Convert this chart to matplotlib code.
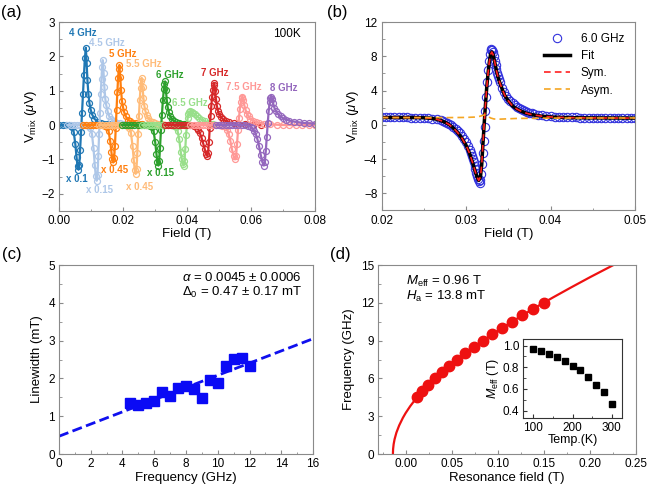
import numpy as np
import matplotlib
matplotlib.use('Agg')
import matplotlib.pyplot as plt
from matplotlib.ticker import MultipleLocator

plt.rcParams['font.family'] = ['Liberation Sans', 'DejaVu Sans']
plt.rcParams['mathtext.fontset'] = 'custom'
plt.rcParams['mathtext.rm'] = 'Liberation Sans'
plt.rcParams['mathtext.it'] = 'Liberation Sans:italic'
plt.rcParams['mathtext.bf'] = 'Liberation Sans:bold'

# ---- (a) Vmix spectra at 100 K, field in mT, Vmix in uV (scaled)
h_4 = [0, 1, 2, 3, 3.5, 4, 4.5, 5, 5.4, 5.7, 6.0, 6.25, 6.5, 6.8, 7.1, 7.4, 7.7, 8.0, 8.3, 8.55,
       8.8, 9.1, 9.4, 9.8, 10.3, 11, 12, 13, 14, 15, 16]
v_4 = [0, 0, 0, 0, -0.03, -0.07, -0.2, -0.55, -0.94, -1.2, -1.3, -1.17, -0.72, -0.2, 0.35, 0.9, 1.45,
       1.95, 2.25, 1.8, 1.3, 0.9, 0.65, 0.45, 0.3, 0.18, 0.1, 0.06, 0.04, 0.03, 0.02]
h_45 = [2.5, 3.5, 4.5, 5.5, 6.5, 7.5, 8.5, 9.2, 9.7, 10.2, 10.7, 11.1, 11.4, 11.7, 11.95, 12.2, 12.45,
        12.7, 12.95, 13.2, 13.4, 13.6, 13.85, 14.1, 14.4, 14.7, 15.1, 15.6, 16.3, 17, 18, 19, 20, 21, 22]
v_45 = [0, 0, 0, 0, 0, 0, 0, -0.04, -0.1, -0.25, -0.68, -1.17, -1.49, -1.62, -1.45, -0.9, -0.25, 0.35,
        0.9, 1.35, 1.7, 1.89, 1.51, 1.1, 0.75, 0.57, 0.4, 0.26, 0.17, 0.12, 0.07, 0.05, 0.03, 0.02, 0.01]
h_5 = [7.5, 8.5, 9.5, 10.5, 11.5, 12.5, 13.5, 14.4, 14.9, 15.4, 15.9, 16.3, 16.6, 16.9, 17.15, 17.4,
       17.65, 17.9, 18.15, 18.4, 18.6, 18.8, 19.05, 19.3, 19.6, 19.9, 20.3, 20.8, 21.5, 22.2, 23, 24, 25, 26, 27]
v_5 = [0, 0, 0, 0, 0, 0, 0, -0.02, -0.06, -0.17, -0.46, -0.79, -1.0, -1.09, -0.97, -0.6, -0.1, 0.45,
       0.95, 1.38, 1.62, 1.75, 1.4, 1.02, 0.7, 0.53, 0.37, 0.25, 0.16, 0.11, 0.07, 0.05, 0.03, 0.02, 0.01]
h_55 = [12.5, 13.5, 14.5, 15.5, 16.5, 17.5, 18.5, 19.5, 20.5, 21.4, 21.9, 22.4, 22.9, 23.3, 23.6, 23.9,
        24.15, 24.4, 24.65, 24.9, 25.15, 25.4, 25.6, 25.8, 26.05, 26.3, 26.6, 26.9, 27.3, 27.8, 28.5,
        29.2, 30, 31, 32, 33]
v_55 = [0, 0, 0, 0, 0, 0, 0, 0, 0, -0.03, -0.08, -0.22, -0.6, -1.03, -1.31, -1.42, -1.27, -0.8, -0.25,
        0.25, 0.72, 1.08, 1.28, 1.37, 1.1, 0.8, 0.56, 0.42, 0.29, 0.2, 0.13, 0.09, 0.06, 0.04, 0.02, 0.01]
h_6 = [19.5, 20.5, 21.5, 22.5, 23.5, 24.5, 25.5, 26.5, 27.5, 28.5, 29.0, 29.5, 30.0, 30.4, 30.7, 31.0,
       31.25, 31.5, 31.8, 32.1, 32.4, 32.7, 32.9, 33.1, 33.35, 33.6, 33.9, 34.2, 34.6, 35.1, 35.8, 36.5,
       37.3, 38, 39, 40]
v_6 = [0, 0, 0, 0, 0, 0, 0, 0, 0, -0.03, -0.07, -0.18, -0.5, -0.85, -1.09, -1.18, -1.06, -0.66, -0.15,
       0.3, 0.72, 1.05, 1.2, 1.27, 1.02, 0.74, 0.52, 0.39, 0.27, 0.19, 0.12, 0.08, 0.06, 0.04, 0.03, 0.02]
h_65 = [26, 27, 28, 29, 30, 31, 32, 33, 34, 35, 36, 36.5, 37, 37.5, 38, 38.3, 38.6, 38.9, 39.15, 39.4,
        39.65, 39.9, 40.15, 40.4, 40.7, 41.0, 41.4, 41.8, 42.4, 43, 43.8, 44.6, 45.5, 46.5, 47.5, 48]
v_65 = [0, 0, 0, 0, 0, 0, 0, 0, 0, 0, -0.03, -0.07, -0.17, -0.42, -0.78, -0.98, -1.13, -1.18, -1.05,
        -0.7, -0.3, 0.0, 0.2, 0.32, 0.38, 0.40, 0.39, 0.36, 0.31, 0.26, 0.2, 0.15, 0.11, 0.07, 0.04, 0.03]
h_7 = [33, 34, 35, 36, 37, 38, 39, 40, 41, 42, 43, 43.5, 44, 44.5, 45, 45.5, 45.9, 46.3, 46.55, 46.8,
       47.05, 47.3, 47.55, 47.8, 48.05, 48.3, 48.5, 48.75, 49, 49.3, 49.6, 50, 50.5, 51.2, 52, 53, 54.5,
       56, 58, 60.5, 63]
v_7 = [0, 0, 0, 0, 0, 0, 0, 0, 0, -0.03, -0.08, -0.14, -0.24, -0.37, -0.53, -0.7, -0.83, -0.89, -0.8,
       -0.5, -0.1, 0.25, 0.55, 0.82, 1.03, 1.17, 1.22, 1.0, 0.75, 0.55, 0.42, 0.32, 0.24, 0.17, 0.12,
       0.08, 0.05, 0.03, 0.02, 0.01, 0.0]
h_75 = [41, 42, 43, 44, 45, 46, 47, 48, 49, 50, 51, 52, 52.5, 53, 53.5, 54, 54.5, 55.0, 55.3, 55.6,
        55.9, 56.2, 56.5, 56.8, 57.05, 57.3, 57.6, 57.9, 58.3, 58.7, 59.2, 59.8, 60.5, 61.5, 62.5, 64,
        66, 68, 70, 72, 74, 76, 78, 80]
v_75 = [0, 0, 0, 0, 0, 0, 0, 0, 0, 0, -0.02, -0.07, -0.14, -0.27, -0.46, -0.7, -0.9, -1.0, -0.9, -0.55,
        -0.15, 0.2, 0.48, 0.68, 0.79, 0.83, 0.72, 0.57, 0.43, 0.33, 0.25, 0.18, 0.13, 0.09, 0.06, 0.04,
        0.02, 0.01, 0, 0, 0, 0, 0, 0]
h_8 = [49, 50, 51, 52, 53, 54, 55, 56, 57, 58, 59, 60, 60.5, 61, 61.5, 62, 62.5, 63, 63.5, 64.0, 64.3,
       64.6, 64.9, 65.2, 65.5, 65.8, 66.05, 66.3, 66.6, 66.9, 67.3, 67.8, 68.4, 69.2, 70, 71, 72, 73.5,
       75, 76.5, 78, 80]
v_8 = [0, 0, 0, 0, 0, 0, 0, 0, 0, 0, -0.02, -0.06, -0.1, -0.17, -0.27, -0.42, -0.62, -0.86, -1.07,
       -1.18, -1.08, -0.75, -0.35, 0.05, 0.4, 0.66, 0.8, 0.83, 0.76, 0.63, 0.5, 0.4, 0.32, 0.25, 0.2,
       0.16, 0.13, 0.1, 0.08, 0.06, 0.05, 0.04]
a_freq_labels = ['4 GHz', '4.5 GHz', '5 GHz', '5.5 GHz', '6 GHz', '6.5 GHz', '7 GHz', '7.5 GHz', '8 GHz']
a_scale_labels = ['x 0.1', 'x 0.15', 'x 0.45', 'x 0.45', 'x 0.15']

# ---- (b) 6.0 GHz spectrum, field in mT
b_field = [20.0, 20.5, 21.0, 21.5, 22.0, 22.5, 23.0, 23.5, 24.0, 24.5, 25.0, 25.5, 26.0, 26.5, 27.0,
           27.25, 27.5, 27.75, 28.0, 28.25, 28.5, 28.75, 29.0, 29.25, 29.5, 29.75, 30.0, 30.25, 30.5,
           30.6, 30.7, 30.8, 30.9, 31.0, 31.1, 31.2, 31.3, 31.4, 31.5, 31.6, 31.7, 31.8, 31.9, 32.0,
           32.1, 32.2, 32.3, 32.4, 32.5, 32.6, 32.7, 32.8, 32.9, 33.0, 33.1, 33.2, 33.3, 33.4, 33.5,
           33.6, 33.7, 33.8, 33.9, 34.0,
           34.25, 34.5, 34.75, 35.0, 35.25, 35.5, 35.75, 36.0, 36.25, 36.5, 36.75, 37.0, 37.25, 37.5,
           37.75, 38.0,
           38.5, 39.0, 39.5, 40.0, 40.5, 41.0, 41.5, 42.0, 42.5, 43.0, 43.5, 44.0, 44.5, 45.0, 45.5,
           46.0, 46.5, 47.0, 47.5, 48.0, 48.5, 49.0, 49.5, 50.0]
b_vmix = [0.86, 0.87, 0.88, 0.86, 0.87, 0.86, 0.86, 0.85, 0.85, 0.84, 0.82, 0.78, 0.72, 0.63, 0.52,
          0.44, 0.35, 0.24, 0.1, -0.06, -0.24, -0.45, -0.7, -0.98, -1.3, -1.65, -2.05, -2.5, -3.0,
          -3.35, -3.7, -4.05, -4.4, -4.8, -5.2, -5.6, -6.0, -6.35, -6.6, -6.75, -6.5, -5.7, -4.6, -3.3,
          -1.9, -0.2, 1.6, 3.3, 5.0, 6.4, 7.5, 8.3, 8.7, 8.85, 8.75, 8.45, 8.0, 7.5, 7.0,
          6.55, 6.1, 5.7, 5.35, 5.0,
          4.35, 3.85, 3.4, 3.05, 2.75, 2.5, 2.28, 2.1, 1.95, 1.8, 1.68, 1.58, 1.48, 1.4, 1.33, 1.27,
          1.18, 1.11, 1.05, 1.0, 0.96, 0.93, 0.91, 0.89, 0.88, 0.86, 0.85, 0.84, 0.83, 0.83, 0.82,
          0.82, 0.81, 0.81, 0.81, 0.8, 0.8, 0.8, 0.8, 0.8]
fit_field = [20, 22, 24, 25, 26, 26.5, 27, 27.5, 28, 28.5, 29, 29.5, 30, 30.4, 30.8, 31.1, 31.3, 31.5,
             31.7, 31.85, 32.0, 32.15, 32.3, 32.45, 32.6, 32.75, 32.9, 33.05, 33.2, 33.4, 33.6, 33.8,
             34.0, 34.3, 34.6, 35.0, 35.5, 36.0, 36.5, 37, 37.5, 38, 39, 40, 41, 42, 44, 46, 48, 50]
fit_v = [0.85, 0.85, 0.84, 0.82, 0.74, 0.65, 0.5, 0.3, 0.02, -0.38, -0.9, -1.55, -2.4, -3.3, -4.5,
         -5.5, -6.1, -6.5, -6.1, -4.7, -2.2, 0.2, 2.4, 4.4, 6.0, 7.3, 8.2, 8.5, 8.2, 7.3, 6.3, 5.5,
         4.9, 4.1, 3.4, 2.8, 2.2, 1.85, 1.6, 1.4, 1.25, 1.15, 1.0, 0.92, 0.87, 0.84, 0.81, 0.8, 0.79, 0.78]
sym_field = fit_field
sym_v = fit_v
asym_field = [20, 28, 30, 31, 31.5, 31.8, 32.0, 32.2, 32.4, 32.6, 32.9, 33.3, 33.8, 34.5, 36, 40, 50]
asym_v = [0.84, 0.84, 0.86, 0.9, 0.96, 1.04, 1.11, 1.16, 1.12, 0.98, 0.8, 0.68, 0.65, 0.68, 0.74, 0.78, 0.8]

# ---- (c) linewidth vs frequency
c_freq = [4.5, 5, 5.5, 6, 6.5, 7, 7.5, 8, 8.5, 9, 9.5, 10, 10.5, 11, 11.5, 12]
c_width = [1.36, 1.30, 1.36, 1.41, 1.63, 1.53, 1.74, 1.80, 1.72, 1.47, 1.97, 1.87, 2.33, 2.51, 2.55, 2.33]
c_err = [0.09, 0.09, 0.09, 0.09, 0.09, 0.09, 0.09, 0.09, 0.09, 0.09, 0.09, 0.09, 0.09, 0.09, 0.09, 0.09]
c_fit_f = [0, 16]
c_fit_w = [0.47, 3.05]

# ---- (d) Kittel plot
d_field = [0.0124, 0.0183, 0.0248, 0.0319, 0.0394, 0.0474, 0.0559, 0.0648, 0.0741, 0.0839, 0.0940,
           0.1045, 0.1153, 0.1265, 0.1379, 0.1497]
d_freq = [4.5, 5, 5.5, 6, 6.5, 7, 7.5, 8, 8.5, 9, 9.5, 10, 10.5, 11, 11.5, 12]
d_err = [0.3] * 16
kit_field = [-0.0138, -0.0136, -0.013, -0.012, -0.010, -0.007, -0.003, 0.0, 0.005, 0.01, 0.02, 0.03,
             0.04, 0.06, 0.08, 0.10, 0.12, 0.14, 0.16, 0.18, 0.20, 0.22, 0.226]
kit_freq = [0, 0.39, 0.78, 1.17, 1.70, 2.27, 2.87, 3.25, 3.80, 4.28, 5.13, 5.87, 6.54, 7.73, 8.80,
            9.79, 10.71, 11.59, 12.43, 13.24, 14.03, 14.79, 15.02]
ins_temp = [100, 120, 140, 160, 180, 200, 220, 240, 260, 280, 300]
ins_meff = [0.97, 0.95, 0.92, 0.89, 0.86, 0.81, 0.77, 0.71, 0.64, 0.57, 0.46]

colors = plt.cm.tab20.colors
a_colors = [colors[i] for i in range(9)]
frame = '#8a8a8a'


def style(ax, fc=frame):
    for s in ax.spines.values():
        s.set_color(fc)
        s.set_linewidth(0.8)
    ax.tick_params(which='both', direction='in', color=fc, labelsize=8.5, pad=3)
    ax.tick_params(which='major', length=3)
    ax.tick_params(which='minor', length=1.8)


fig = plt.figure(figsize=(6.49, 4.86), dpi=100)

# (a)
ax = fig.add_axes([0.0914, 0.566, 0.394, 0.3887])
fields = [h_4, h_45, h_5, h_55, h_6, h_65, h_7, h_75, h_8]
values = [v_4, v_45, v_5, v_55, v_6, v_65, v_7, v_75, v_8]
for h, v, c in zip(fields, values, a_colors):
    ax.plot(np.array(h) / 1000, v, '-o', color=c, lw=1.6, ms=4.3, mfc='none', mew=0.9)
lab_xy = [(0.0075, 2.69), (0.0150, 2.39), (0.0198, 2.07), (0.0263, 1.78), (0.0346, 1.46),
          (0.0409, 0.64), (0.0487, 1.53), (0.0578, 1.11), (0.0701, 1.08)]
for (x, y), t, c in zip(lab_xy, a_freq_labels, a_colors):
    ax.text(x, y, t, color=c, fontsize=7, fontweight='bold', ha='center', va='center')
sc_xy = [(0.0055, -1.56), (0.0127, -1.89), (0.0174, -1.32), (0.0252, -1.80), (0.0318, -1.41)]
sc_col = [a_colors[0], a_colors[1], a_colors[2], a_colors[3], a_colors[4]]
for (x, y), t, c in zip(sc_xy, a_scale_labels, sc_col):
    ax.text(x, y, t, color=c, fontsize=7, fontweight='bold', ha='center', va='center')
ax.text(0.0711, 2.66, '100K', fontsize=8.5, ha='center', va='center')
ax.set_xlim(0, 0.08)
ax.set_ylim(-2.5, 3)
ax.xaxis.set_major_locator(MultipleLocator(0.02))
ax.xaxis.set_minor_locator(MultipleLocator(0.01))
ax.yaxis.set_major_locator(MultipleLocator(1))
ax.yaxis.set_minor_locator(MultipleLocator(0.5))
ax.xaxis.set_major_formatter(plt.FormatStrFormatter('%.2f'))
ax.set_xlabel('Field (T)', fontsize=9.5, labelpad=1)
ax.set_ylabel(r'V$_{\rm mix}$ ($\mu$V)', fontsize=9.5, labelpad=2)
style(ax)

# (b)
ax = fig.add_axes([0.588, 0.567, 0.3904, 0.3877])
ax.plot(np.array(b_field) / 1000, b_vmix, 'o', ms=6, mfc='none', mec='#3333dd', mew=0.8, label='6.0 GHz')
ax.plot(np.array(fit_field) / 1000, fit_v, '-', color='black', lw=2.5, label='Fit')
ax.plot(np.array(sym_field) / 1000, sym_v, '--', color='#ff2020', lw=1.2, dashes=(4, 2.5), label='Sym.')
ax.plot(np.array(asym_field) / 1000, asym_v, '--', color='#f5a623', lw=1.2, dashes=(4, 2.5), label='Asym.')
ax.set_xlim(0.02, 0.05)
ax.set_ylim(-10, 12)
ax.xaxis.set_major_locator(MultipleLocator(0.01))
ax.xaxis.set_minor_locator(MultipleLocator(0.005))
ax.yaxis.set_major_locator(MultipleLocator(4))
ax.yaxis.set_minor_locator(MultipleLocator(2))
ax.xaxis.set_major_formatter(plt.FormatStrFormatter('%.2f'))
ax.set_xlabel('Field (T)', fontsize=9.5, labelpad=1)
ax.set_ylabel(r'V$_{\rm mix}$ ($\mu$V)', fontsize=9.5, labelpad=2)
ax.legend(loc='upper left', bbox_to_anchor=(0.6, 1.0), frameon=False, fontsize=8.5,
          handlelength=2.2, handletextpad=0.9, labelspacing=0.45)
style(ax)

# (c)
ax = fig.add_axes([0.0909, 0.0658, 0.3914, 0.3889])
ax.plot(c_fit_f, c_fit_w, '--', color='#1010ee', lw=2, dashes=(3.6, 1.6))
ax.errorbar(c_freq, c_width, yerr=c_err, fmt='s', ms=7.5, color='#0a0af5', ecolor='black',
            elinewidth=1, capsize=0)
ax.text(15.3, 4.67, r'$\alpha$ = 0.0045 ± 0.0006', fontsize=9.5, ha='right', va='center')
ax.text(15.3, 4.27, r'$\Delta_0$ = 0.47 ± 0.17 mT', fontsize=9.5, ha='right', va='center')
ax.set_xlim(0, 16)
ax.set_ylim(0, 5)
ax.xaxis.set_major_locator(MultipleLocator(2))
ax.xaxis.set_minor_locator(MultipleLocator(1))
ax.yaxis.set_major_locator(MultipleLocator(1))
ax.yaxis.set_minor_locator(MultipleLocator(0.5))
ax.set_xlabel('Frequency (GHz)', fontsize=9.5, labelpad=1)
ax.set_ylabel('Linewidth (mT)', fontsize=9.5, labelpad=4)
style(ax)

# (d)
ax = fig.add_axes([0.5824, 0.0658, 0.3976, 0.3889])
ax.plot(kit_field, kit_freq, '-', color='#ee1111', lw=1.6)
eb = ax.errorbar(d_field, d_freq, yerr=d_err, fmt='o', ms=7.5, color='#ee1111', ecolor='black',
                 elinewidth=0.9, capsize=0)
eb[2][0].set_linestyle((0, (1, 1)))
ax.text(0.0, 13.7, r'$M_{\rm eff}$ = 0.96 T', fontsize=9.5, ha='left', va='center')
ax.text(0.0, 12.5, r'$H_{\rm a}$ = 13.8 mT', fontsize=9.5, ha='left', va='center')
ax.set_xlim(-0.03, 0.25)
ax.set_ylim(0, 15)
ax.xaxis.set_major_locator(MultipleLocator(0.05))
ax.xaxis.set_minor_locator(MultipleLocator(0.025))
ax.yaxis.set_major_locator(MultipleLocator(3))
ax.yaxis.set_minor_locator(MultipleLocator(1.5))
ax.xaxis.set_major_formatter(plt.FormatStrFormatter('%.2f'))
ax.set_xlabel('Resonance field (T)', fontsize=9.5, labelpad=1)
ax.set_ylabel('Frequency (GHz)', fontsize=9.5, labelpad=4)
style(ax)

# inset
ax = fig.add_axes([0.8063, 0.1393, 0.1517, 0.1632])
ax.plot(ins_temp, ins_meff, 's', color='black', ms=5)
ax.set_xlim(75, 325)
ax.set_ylim(0.33, 1.06)
ax.xaxis.set_major_locator(MultipleLocator(100))
ax.xaxis.set_minor_locator(MultipleLocator(50))
ax.yaxis.set_major_locator(MultipleLocator(0.2))
ax.yaxis.set_minor_locator(MultipleLocator(0.1))
ax.set_xlabel('Temp.(K)', fontsize=9, labelpad=0)
ax.set_ylabel(r'$M_{\rm eff}$ (T)', fontsize=9, labelpad=1)
style(ax, fc='#333333')

fig.text(0.018, 0.975, '(a)', fontsize=12, va='center', ha='center')
fig.text(0.519, 0.975, '(b)', fontsize=12, va='center', ha='center')
fig.text(0.018, 0.477, '(c)', fontsize=12, va='center', ha='center')
fig.text(0.524, 0.477, '(d)', fontsize=12, va='center', ha='center')

fig.savefig('out.png', dpi=100)
